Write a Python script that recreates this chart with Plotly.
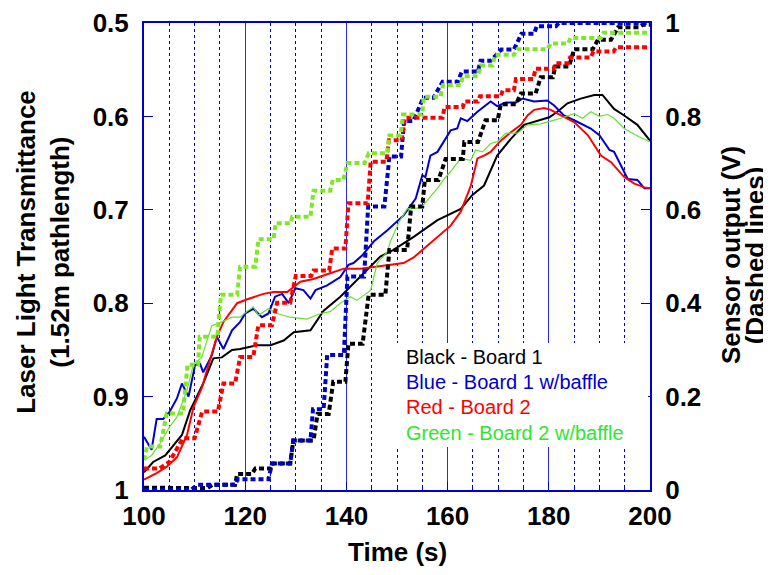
import plotly.graph_objects as go

# ---------------- data ----------------
# Solid lines: laser light transmittance (left axis, reversed)
t_black = [100, 101.8, 104.2, 107.5, 109.1, 111.7, 113.7, 115.4, 117.4, 119, 122.3, 125, 127.6, 129.6, 132.9,
           135.5, 138.8, 141.4, 144.1, 146.7, 149.3, 153.3, 158, 160.6, 162.6, 164.9, 167.2, 169.8, 172.5,
           175.1, 177.8, 180.1, 181.7, 183.7, 186.3, 189, 190.6, 192.9, 194.9, 197.5, 200]
T_black = [0.981, 0.970, 0.963, 0.941, 0.915, 0.886, 0.859, 0.858, 0.850, 0.849, 0.845, 0.845, 0.840, 0.831, 0.829,
           0.808, 0.793, 0.779, 0.765, 0.750, 0.743, 0.729, 0.711, 0.704, 0.699, 0.684, 0.674, 0.642, 0.624,
           0.609, 0.605, 0.601, 0.595, 0.586, 0.581, 0.577, 0.577, 0.592, 0.599, 0.609, 0.626]

t_blue = [100, 101.5, 102.5, 103.8, 105.1, 106.5, 107.5, 108.8, 110.1, 111.1, 111.7, 113.4, 114.4, 115.7, 117.4,
          119, 120, 121.6, 123.3, 124.6, 125.9, 127.3, 128.6, 129.9, 131.5, 132.9, 133.9, 136.2, 138.8, 140.4,
          141.4, 143.1, 145.4, 148.1, 151.3, 153.7, 155, 155.6, 156.6, 158, 160.6, 161.9, 162.6, 163.9, 165.9,
          168.5, 169.8, 171.5, 173.5, 174.8, 177.1, 179.7, 181, 183, 185.7, 188.3, 190, 192, 192.9, 195.6,
          197.5, 198.9, 200]
T_blue = [0.943, 0.957, 0.924, 0.924, 0.916, 0.902, 0.886, 0.900, 0.866, 0.865, 0.874, 0.856, 0.836, 0.849, 0.829,
          0.820, 0.811, 0.806, 0.815, 0.811, 0.793, 0.790, 0.800, 0.784, 0.786, 0.795, 0.786, 0.781, 0.772, 0.759,
          0.757, 0.749, 0.734, 0.722, 0.706, 0.688, 0.663, 0.665, 0.642, 0.638, 0.615, 0.613, 0.602, 0.605, 0.595,
          0.584, 0.589, 0.585, 0.585, 0.581, 0.584, 0.583, 0.588, 0.599, 0.606, 0.613, 0.620, 0.636, 0.638, 0.667,
          0.668, 0.677, 0.677]

t_red = [100, 102.5, 104.5, 106.5, 108.5, 109.8, 111.4, 113.1, 114.4, 115.7, 118.4, 120.3, 123.6, 125.6, 128.3,
         130.9, 133.5, 136.2, 139.5, 142.8, 145.4, 148.1, 151.3, 153.3, 155, 158, 160.6, 162.6, 164.6, 165.9,
         167.2, 168.5, 170.5, 172.5, 174.5, 175.8, 177.1, 179.1, 180.4, 182.4, 185, 187.7, 190.3, 192.3, 194.9,
         196.9, 198.9, 200]
T_red = [0.989, 0.982, 0.975, 0.965, 0.941, 0.911, 0.891, 0.861, 0.836, 0.820, 0.800, 0.796, 0.790, 0.788, 0.788,
         0.777, 0.774, 0.769, 0.763, 0.763, 0.761, 0.759, 0.757, 0.751, 0.743, 0.729, 0.717, 0.702, 0.674, 0.645,
         0.642, 0.638, 0.626, 0.617, 0.609, 0.599, 0.593, 0.591, 0.593, 0.599, 0.606, 0.620, 0.642, 0.649, 0.665,
         0.672, 0.676, 0.677]

t_green = [100, 101.5, 103.2, 105.1, 106.5, 108.5, 109.8, 111.4, 113.4, 115.4, 117.4, 119, 120.3, 121.6, 122.6,
           124.6, 126.3, 128.9, 132.2, 134.9, 136.8, 138.8, 140.8, 142.1, 144.8, 146.1, 148.1, 148.7, 150.4, 152,
           154.7, 156, 158, 159.3, 160.6, 162.6, 164.6, 165.5, 166.9, 168.5, 169.8, 171.5, 173.8, 175.8, 178.4,
           180.4, 182.4, 185, 186.7, 188.3, 190, 191.6, 192.9, 194.9, 197.9, 200]
T_green = [0.968, 0.963, 0.950, 0.932, 0.922, 0.893, 0.865, 0.858, 0.824, 0.820, 0.815, 0.815, 0.809, 0.804, 0.813,
           0.806, 0.811, 0.815, 0.817, 0.811, 0.809, 0.800, 0.793, 0.797, 0.786, 0.757, 0.745, 0.734, 0.713, 0.699,
           0.698, 0.690, 0.677, 0.667, 0.659, 0.645, 0.647, 0.636, 0.638, 0.629, 0.627, 0.618, 0.618, 0.609, 0.608,
           0.605, 0.602, 0.597, 0.602, 0.595, 0.600, 0.598, 0.602, 0.613, 0.622, 0.627]

# Dashed lines: sensor output in volts (right axis)
ts_black = [100, 104, 106, 112.5, 113.5, 118, 118.4, 121.3, 122, 125, 125.5, 128.9, 129.5, 133.5, 134.3, 136.5,
            137.4, 139.8, 140.4, 143.2, 144.4, 147.7, 148.5, 152, 152.8, 155, 155.5, 158.2, 159.6, 163, 163.3,
            166, 167.5, 169.9, 170.5, 173.5, 174.5, 177.4, 178.4, 180.8, 181.3, 184, 185, 188.7, 189.7, 192.3,
            193.7, 197.8, 198.5, 200]
V_black = [0.005, 0.005, 0.004, 0.004, 0.011, 0.011, 0.034, 0.034, 0.046, 0.046, 0.057, 0.057, 0.106, 0.106, 0.163,
           0.163, 0.232, 0.232, 0.313, 0.313, 0.418, 0.418, 0.514, 0.514, 0.607, 0.607, 0.664, 0.664, 0.709, 0.709,
           0.745, 0.745, 0.792, 0.792, 0.826, 0.826, 0.849, 0.849, 0.884, 0.884, 0.907, 0.907, 0.944, 0.944, 0.964,
           0.964, 0.991, 0.991, 0.996, 0.996]

ts_blue = [100, 109.3, 110.5, 118, 118.5, 124.6, 125.3, 128.9, 129.5, 132.9, 133.4, 135.5, 136.2, 139.5, 140.2,
           143.5, 144.3, 147.5, 148.5, 150.8, 151.4, 153.2, 155.2, 157.2, 159, 162, 162.8, 166, 166.5, 168.5,
           170.6, 173.1, 174.6, 177.1, 177.6, 181.4, 182, 200]
V_blue = [0.0, 0.0, 0.011, 0.011, 0.023, 0.023, 0.057, 0.057, 0.106, 0.106, 0.173, 0.173, 0.289, 0.289, 0.457,
          0.457, 0.607, 0.607, 0.714, 0.714, 0.790, 0.790, 0.840, 0.840, 0.874, 0.874, 0.896, 0.896, 0.919, 0.919,
          0.943, 0.943, 0.977, 0.977, 0.993, 0.993, 1.0, 1.0]

ts_red = [100, 103, 105, 106.5, 107.7, 110, 111.5, 114.6, 115.7, 118, 119, 121.6, 122.6, 125.3, 126.3, 128.9,
          130, 133, 133.5, 136.6, 137.2, 139.8, 140.4, 144.2, 144.8, 147.9, 148.4, 150.9, 151.6, 159, 159.4,
          163, 163.3, 166, 166.4, 170.5, 170.9, 173.1, 173.5, 176.9, 177.4, 180.9, 181.4, 183.8, 184.2, 188.3,
          188.8, 192.8, 193.3, 200]
V_red = [0.046, 0.046, 0.060, 0.090, 0.111, 0.111, 0.168, 0.168, 0.228, 0.228, 0.285, 0.285, 0.353, 0.353, 0.401,
         0.401, 0.458, 0.458, 0.470, 0.470, 0.517, 0.517, 0.614, 0.614, 0.703, 0.703, 0.749, 0.749, 0.797, 0.797,
         0.820, 0.820, 0.832, 0.832, 0.843, 0.843, 0.856, 0.856, 0.880, 0.880, 0.902, 0.902, 0.914, 0.914, 0.926,
         0.926, 0.939, 0.939, 0.948, 0.948]

ts_green = [100, 100.6, 103.2, 104.5, 107.7, 108.6, 110.7, 111, 114.5, 115.2, 118.4, 119, 122, 122.6, 125.6, 126,
            129, 129.3, 132.9, 133.5, 136.8, 137.3, 139.4, 140.2, 143.6, 144.4, 148.1, 148.5, 150.7, 151.2, 155,
            155.3, 158.6, 159.1, 162.6, 163, 166, 166.5, 168.9, 169.4, 173.1, 173.8, 179.8, 180.3, 183.8, 184.3,
            190.3, 190.8, 200]
V_green = [0.064, 0.093, 0.093, 0.164, 0.164, 0.268, 0.268, 0.328, 0.328, 0.418, 0.418, 0.478, 0.478, 0.537, 0.537,
           0.571, 0.571, 0.585, 0.585, 0.641, 0.641, 0.664, 0.664, 0.700, 0.700, 0.721, 0.721, 0.759, 0.759, 0.804,
           0.804, 0.842, 0.842, 0.867, 0.867, 0.886, 0.886, 0.909, 0.909, 0.932, 0.932, 0.944, 0.944, 0.956, 0.956,
           0.968, 0.968, 0.979, 0.979]

legend_lines = ["Black - Board 1", "Blue - Board 1 w/baffle", "Red - Board 2", "Green - Board 2 w/baffle"]

# ---------------- styling ----------------
FONT = "Liberation Sans, Arial, Helvetica, sans-serif"
AX = "#0000cc"
GRID = "#2a2aee"
C_BLACK, C_BLUE, C_RED = "#000000", "#0000cc", "#ff0000"
C_GREEN_SOLID, C_GREEN_DASH, C_GREEN_TEXT = "#66e033", "#80e628", "#2ee62e"
DASH = "5px,3px"

fig = go.Figure()

solids = [(t_black, T_black, C_BLACK, 2), (t_blue, T_blue, C_BLUE, 2),
          (t_red, T_red, C_RED, 2), (t_green, T_green, C_GREEN_SOLID, 1.2)]
for xs, ys, col, w in solids:
    assert len(xs) == len(ys)
    fig.add_trace(go.Scatter(x=xs, y=ys, mode="lines", yaxis="y",
                             line=dict(color=col, width=w), showlegend=False, hoverinfo="skip"))

dashes = [(ts_black, V_black, C_BLACK), (ts_blue, V_blue, C_BLUE),
          (ts_red, V_red, C_RED), (ts_green, V_green, C_GREEN_DASH)]
for xs, ys, col in dashes:
    assert len(xs) == len(ys)
    fig.add_trace(go.Scatter(x=xs, y=ys, mode="lines", yaxis="y2",
                             line=dict(color=col, width=4, dash=DASH), showlegend=False, hoverinfo="skip"))

tickfont = dict(family=FONT, size=26, color="black", weight="bold")
titlefont = dict(family=FONT, size=26, color="black", weight="bold")

# The page body adds an 8px margin, so the figure is 8px smaller and margins are shifted accordingly.
fig.update_layout(
    width=763, height=567,
    margin=dict(l=136, r=121, t=15, b=85, autoexpand=False),
    paper_bgcolor="white", plot_bgcolor="white",
    xaxis=dict(range=[100, 200], tick0=100, dtick=20, ticks="inside", ticklen=8, tickcolor=AX, tickwidth=1,
               showline=True, linecolor=AX, linewidth=2, mirror=True, automargin=False,
               showgrid=True, gridcolor=GRID, gridwidth=1, zeroline=False,
               tickfont=tickfont, ticklabelstandoff=2,
               minor=dict(dtick=5, tick0=100, ticks="inside", ticklen=5, tickcolor=AX,
                          showgrid=True, gridcolor=AX, gridwidth=1, griddash="3px,3px")),
    yaxis=dict(range=[1, 0.5], dtick=0.1, tick0=0.5, ticks="inside", ticklen=9, tickcolor=AX, tickwidth=1,
               showline=True, linecolor=AX, linewidth=2, showgrid=False, zeroline=False, automargin=False,
               tickfont=tickfont, ticklabelstandoff=8),
    yaxis2=dict(range=[0, 1], dtick=0.2, tick0=0, ticks="inside", ticklen=9, tickcolor=AX, tickwidth=1,
                overlaying="y", side="right", showline=True, linecolor=AX, linewidth=2, automargin=False,
                showgrid=False, zeroline=False, tickfont=tickfont, ticklabelstandoff=8),
)

# legend box
fig.add_shape(type="rect", xref="paper", yref="paper", x0=0.5, x1=0.996, y0=0.092, y1=0.315,
              fillcolor="white", line=dict(width=0), layer="above")
legend_colors = [C_BLACK, C_BLUE, C_RED, C_GREEN_TEXT]
legend_y = [0.2854, 0.2319, 0.1784, 0.1227]
for txt, col, yy in zip(legend_lines, legend_colors, legend_y):
    fig.add_annotation(text=txt, xref="paper", yref="paper", x=0.514, y=yy, xanchor="left", yanchor="middle",
                       showarrow=False, font=dict(family=FONT, size=20, color=col))

# axis titles
titles = [("Laser Light Transmittance", -0.2332, 0.51, -90),
          ("(1.52m pathlength)", -0.1664, 0.51, -90),
          ("Sensor output (V)", 1.160, 0.503, -90),
          ("(Dashed lines)", 1.208, 0.503, -90),
          ("Time (s)", 0.5, -0.1328, 0)]
for txt, xx, yy, ang in titles:
    fig.add_annotation(text=txt, xref="paper", yref="paper", x=xx, y=yy, xanchor="center", yanchor="middle",
                       textangle=ang, showarrow=False, font=titlefont)

fig.write_html("out.html")
